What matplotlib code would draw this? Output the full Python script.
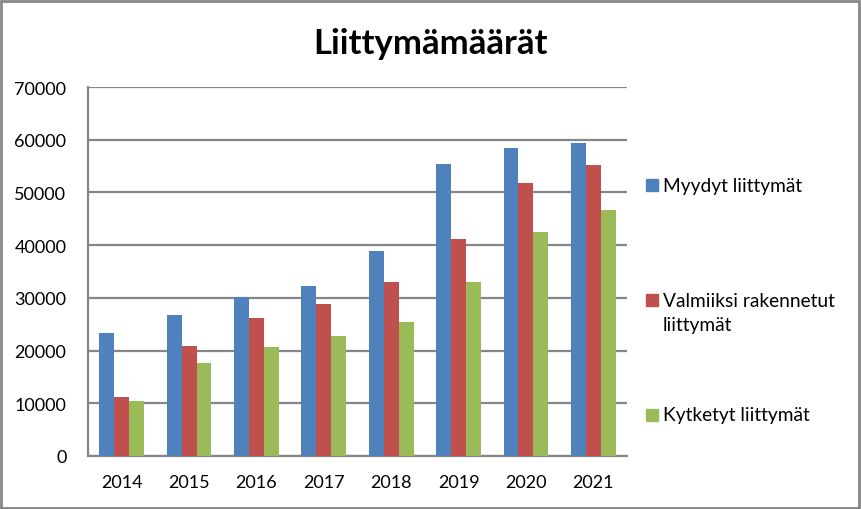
import matplotlib
matplotlib.use("Agg")
import matplotlib.pyplot as plt
import matplotlib.patches as mpatches
import numpy as np

years = ["2014", "2015", "2016", "2017", "2018", "2019", "2020", "2021"]
myydyt = [23300, 26800, 30200, 32300, 38900, 55400, 58400, 59400]
valmiit = [11200, 20900, 26200, 28800, 33000, 41200, 51800, 55200]
kytketyt = [10400, 17600, 20700, 22800, 25400, 33000, 42500, 46700]

series = [
    ("Myydyt liittymät", myydyt, "#4F81BD"),
    ("Valmiiksi rakennetut\nliittymät", valmiit, "#C0504D"),
    ("Kytketyt liittymät", kytketyt, "#9BBB59"),
]

FONT = ["Lato", "DejaVu Sans"]
GRID = "#868686"

fig = plt.figure(figsize=(8.61, 5.10), dpi=100)
W, H = 861, 510
ax = fig.add_axes([88 / W, 1 - 457 / H, (627 - 88) / W, (457 - 88) / H])

x = np.arange(len(years))
bw = 0.222
for i, (label, vals, color) in enumerate(series):
    ax.bar(x + (i - 1) * bw, vals, width=bw, color=color, zorder=3)

ax.set_xlim(-0.5, len(years) - 0.5)
ax.set_ylim(0, 70000)
ax.set_yticks(range(0, 70001, 10000))
ax.set_yticklabels([str(v) for v in range(0, 70001, 10000)], family=FONT, fontsize=13)
ax.set_xticks(x)
ax.set_xticklabels(years, family=FONT, fontsize=13)
ax.tick_params(length=0)
ax.tick_params(axis="x", pad=13)
ax.tick_params(axis="y", pad=15.5)
ax.yaxis.grid(True, color=GRID, linewidth=1.6, zorder=0)
for s in ["top", "right"]:
    ax.spines[s].set_visible(False)
for s in ["left", "bottom"]:
    ax.spines[s].set_color(GRID)
    ax.spines[s].set_linewidth(1.6)

fig.text(430.5 / W, 1 - 44 / H, "Liittymämäärät", ha="center", va="center",
         family=FONT, fontsize=25, fontweight="bold")

# legend drawn by hand: square sits on the baseline of the first text line
baselines = [192, 307, 421.5]
line_step = 24.3
for (label, vals, color), base in zip(series, baselines):
    fig.patches.append(mpatches.Rectangle((646 / W, 1 - base / H), 12 / W, 12 / H,
                                          transform=fig.transFigure, color=color))
    for k, line in enumerate(label.split("\n")):
        fig.text(663 / W, 1 - (base + k * line_step) / H, line, ha="left",
                 va="baseline", family=FONT, fontsize=13.8)

fig.patches.append(mpatches.Rectangle((1 / W, 1 / H), 1 - 3 / W, 1 - 3 / H,
                                      transform=fig.transFigure, fill=False,
                                      edgecolor=GRID, linewidth=2))

fig.savefig("out.png", dpi=100)
